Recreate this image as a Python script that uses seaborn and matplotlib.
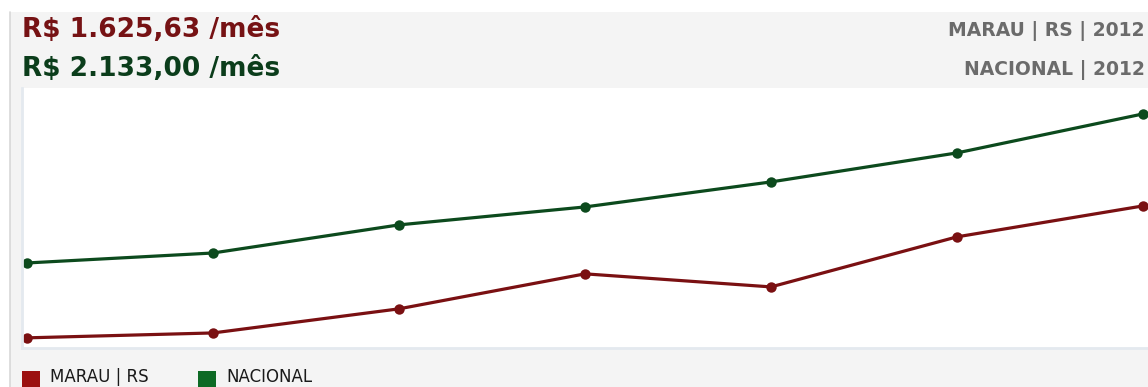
import matplotlib
matplotlib.use("Agg")
import matplotlib.pyplot as plt
from matplotlib.patches import Rectangle
import seaborn as sns
import pandas as pd

# Monthly average income, 2006-2012
anos = [2006, 2007, 2008, 2009, 2010, 2011, 2012]
marau_rs = [898, 925, 1058, 1251, 1179, 1455, 1625.63]
nacional = [1311, 1366, 1521, 1620, 1758, 1918, 2133.00]

series = ["MARAU | RS", "NACIONAL"]
cores_linha = {"MARAU | RS": "#7a1012", "NACIONAL": "#0c4a1d"}
cores_legenda = ["#9c1010", "#0e6a25"]

titulo_marau = "R$ 1.625,63 /mês"
titulo_nacional = "R$ 2.133,00 /mês"
rotulo_marau = "MARAU | RS | 2012"
rotulo_nacional = "NACIONAL | 2012"

df = pd.DataFrame({
    "ano": anos * 2,
    "valor": marau_rs + nacional,
    "serie": [series[0]] * len(anos) + [series[1]] * len(anos),
})

W, H = 1148, 387
sns.set_theme(style="white")
plt.rcParams["font.family"] = ["DejaVu Sans"]

fig = plt.figure(figsize=(W / 100, H / 100), dpi=100, facecolor="white")

# gray panel behind the chart
fig.patches.append(Rectangle((10 / W, 0), 1, (H - 12) / H, transform=fig.transFigure,
                             facecolor="#f4f4f4", edgecolor="none", zorder=-2))
fig.lines.append(plt.Line2D([10 / W, 10 / W], [0, (H - 12) / H], transform=fig.transFigure,
                            color="#d8d8d8", linewidth=1.2, zorder=-1))

# plot area: 22..1148 px horizontally, 88..348 px vertically
ax = fig.add_axes([22 / W, (H - 348) / H, (W - 22) / W, 260 / H])
ax.set_facecolor("white")
ax.set_zorder(1)

sns.lineplot(data=df, x="ano", y="valor", hue="serie", palette=cores_linha,
             marker="o", markersize=7.5, markeredgewidth=0, linewidth=2.3,
             legend=False, ax=ax)
for ln in ax.lines:
    ln.set_clip_on(False)

span = (anos[-1] - anos[0]) / 6
ax.set_xlim(anos[0] - 0.027 * span, anos[-1] + 0.027 * span)
ax.set_ylim(842, 2276)
ax.set_xticks([])
ax.set_yticks([])
ax.set_xlabel("")
ax.set_ylabel("")
for s in ["top", "right"]:
    ax.spines[s].set_visible(False)
for s in ["left", "bottom"]:
    ax.spines[s].set_color("#e4e9ef")
    ax.spines[s].set_linewidth(2)

# headline values
fig.text(22 / W, 1 - 30 / H, titulo_marau, color="#761214", fontsize=19, fontweight="bold",
         va="center", ha="left")
fig.text(22 / W, 1 - 69 / H, titulo_nacional, color="#0b3d1b", fontsize=19, fontweight="bold",
         va="center", ha="left")
fig.text(1145 / W, 1 - 31 / H, rotulo_marau, color="#6b6b6b", fontsize=13.5, fontweight="bold",
         va="center", ha="right")
fig.text(1145 / W, 1 - 70 / H, rotulo_nacional, color="#6b6b6b", fontsize=13.5, fontweight="bold",
         va="center", ha="right")

# legend
leg_x = [22, 198]
txt_x = [50, 226]
for nome, cor, xq, xt in zip(series, cores_legenda, leg_x, txt_x):
    fig.patches.append(Rectangle((xq / W, 0), 18 / W, 16 / H, transform=fig.transFigure,
                                 facecolor=cor, edgecolor="none", zorder=2))
    fig.text(xt / W, 1 / H, nome, color="#1a1a1a", fontsize=12, va="bottom", ha="left")

fig.savefig("out.png", dpi=100, facecolor=fig.get_facecolor())
